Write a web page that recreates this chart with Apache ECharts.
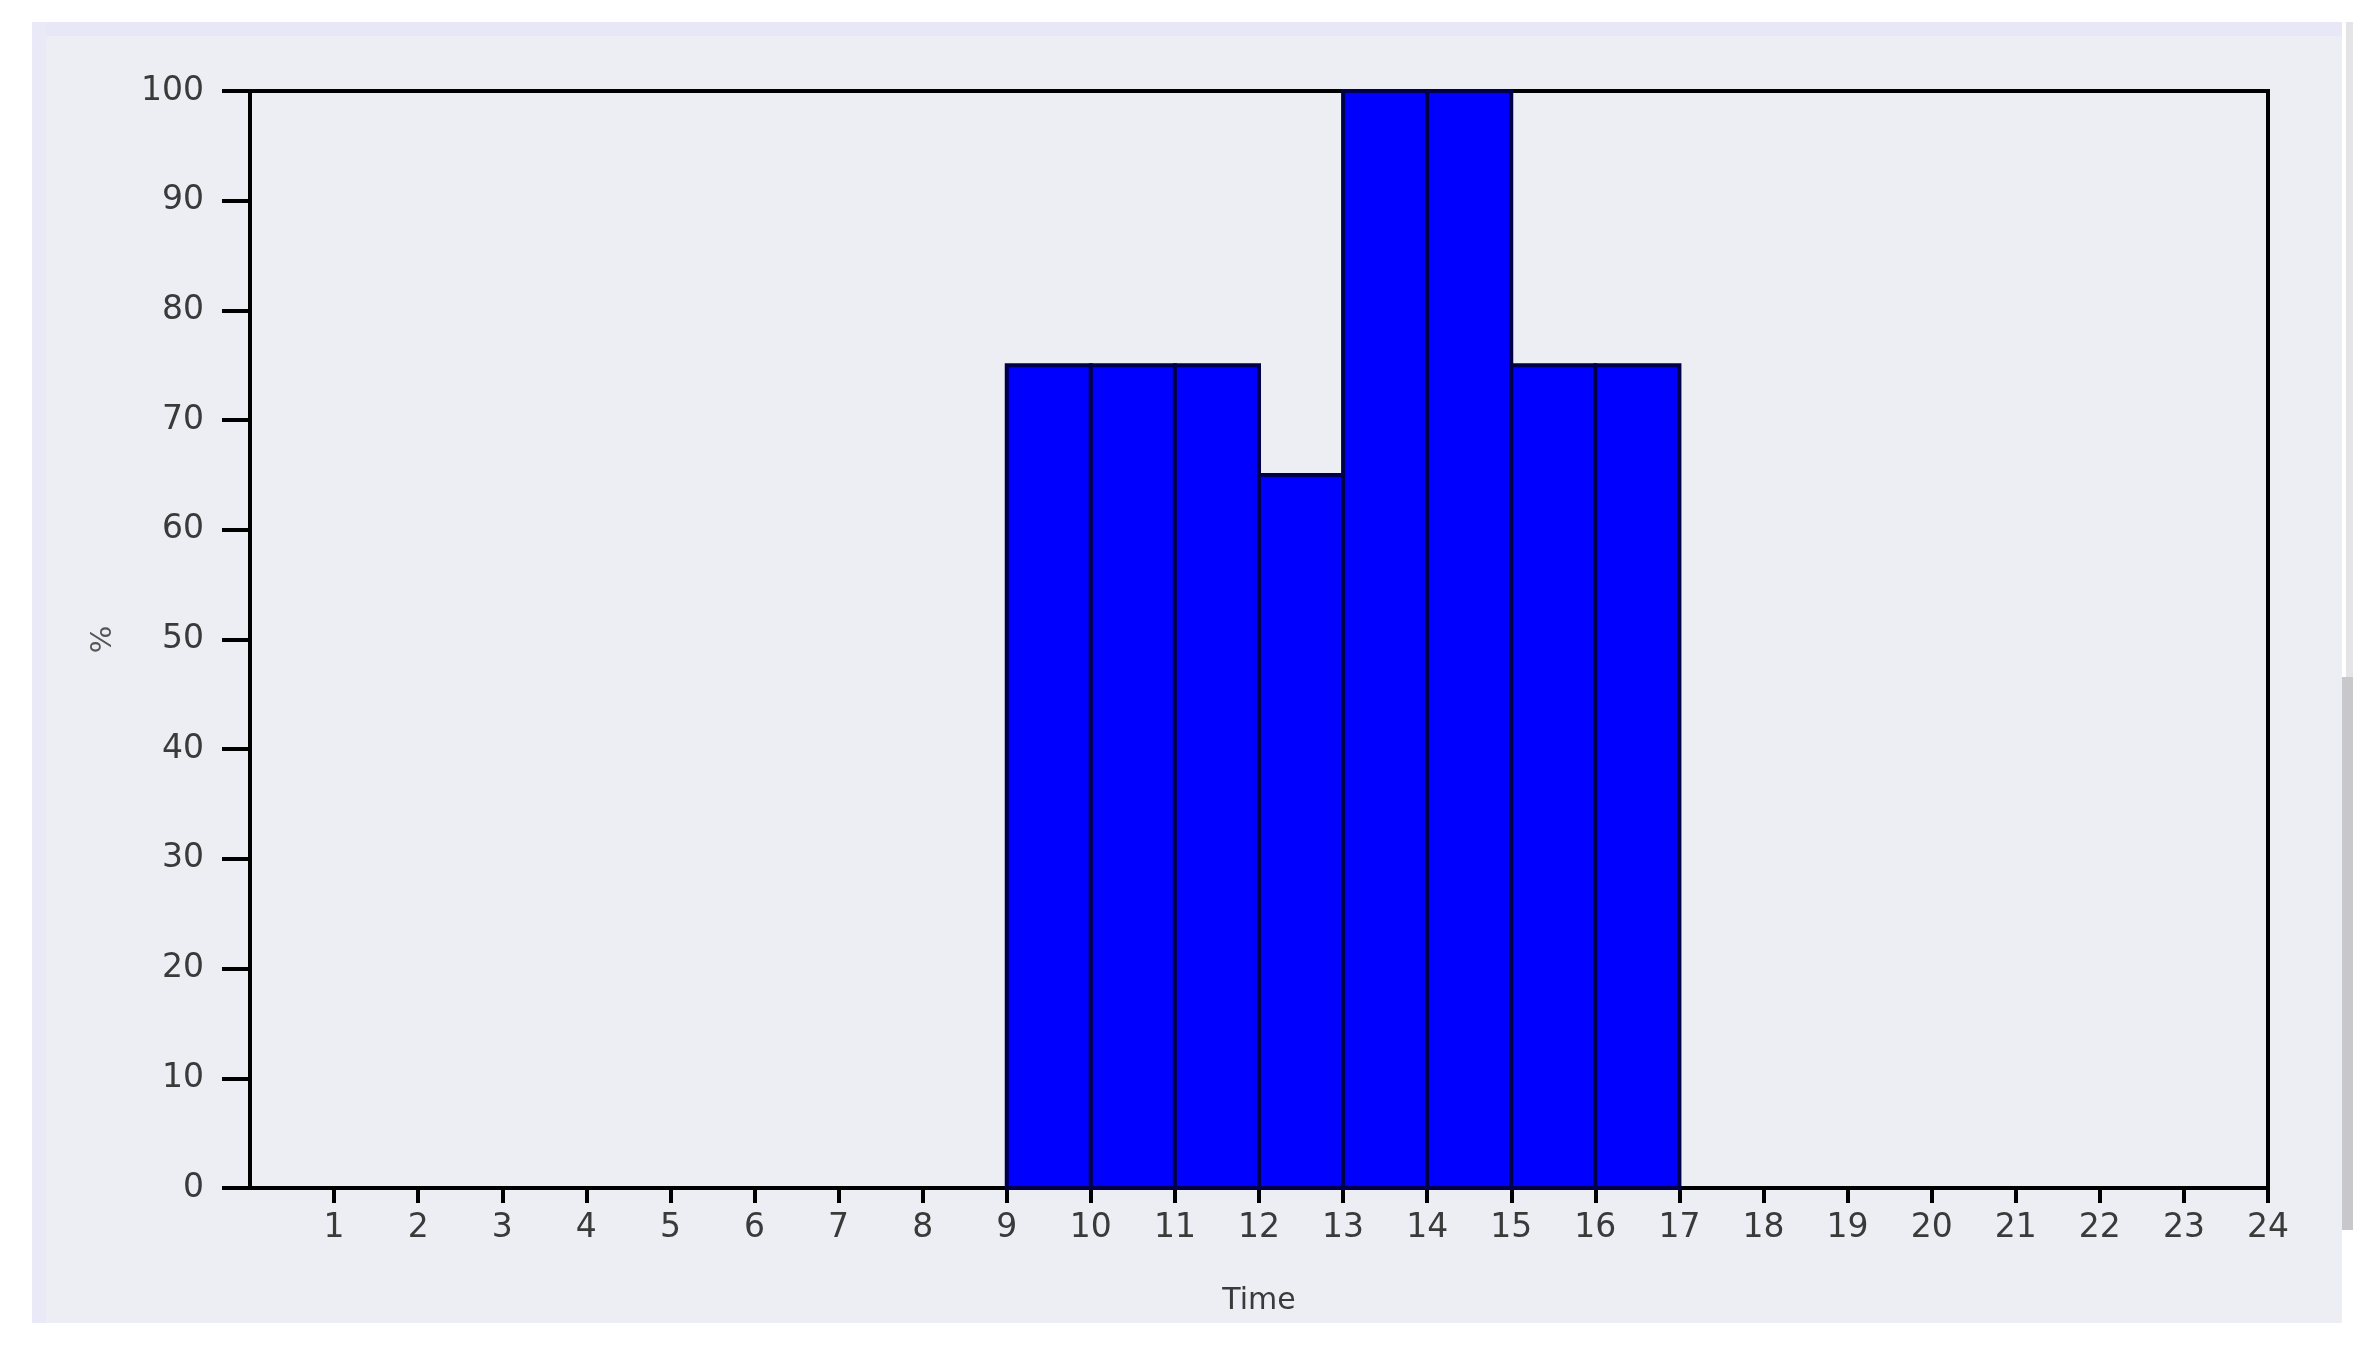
<!DOCTYPE html>
<html>
<head>
<meta charset="utf-8">
<script src="https://cdn.jsdelivr.net/npm/echarts@6/dist/echarts.min.js"></script>
<style>
  html, body { margin: 0; padding: 0; background: #fff; }
  #chart { width: 2376px; height: 1355px; }
</style>
</head>
<body>
<div id="chart"></div>
<script>
// hour slots: slot i spans from tick i to tick i+1
const slotStart = [0, 1, 2, 3, 4, 5, 6, 7, 8, 9, 10, 11, 12, 13, 14, 15, 16, 17, 18, 19, 20, 21, 22, 23]
const slotValues = [0, 0, 0, 0, 0, 0, 0, 0, 0, 75, 75, 75, 65, 100, 100, 75, 75, 0, 0, 0, 0, 0, 0, 0]
const xTicks = [1, 2, 3, 4, 5, 6, 7, 8, 9, 10, 11, 12, 13, 14, 15, 16, 17, 18, 19, 20, 21, 22, 23, 24]
const yTicks = [0, 10, 20, 30, 40, 50, 60, 70, 80, 90, 100]

const chart = echarts.init(document.getElementById('chart'))

const bars = []
for (let i = 0; i < slotStart.length; i++) {
  if (slotValues[i] > 0) {
    bars.push([slotStart[i], slotStart[i] + 1, slotValues[i]])
  }
}

const labelFont = {
  fontFamily: 'DejaVu Sans',
  fontSize: 33,
  color: '#3a3a3a'
}

chart.setOption({
  animation: false,
  backgroundColor: '#ffffff',
  graphic: [
    // outer panel
    { type: 'rect', z: -10, shape: { x: 32, y: 22, width: 2310, height: 1301 }, style: { fill: '#eceef3' } },
    { type: 'rect', z: -9, shape: { x: 32, y: 22, width: 2310, height: 14 }, style: { fill: '#e8e7f8' } },
    { type: 'rect', z: -9, shape: { x: 32, y: 22, width: 14, height: 1301 }, style: { fill: '#eae9f8' } },
    // scrollbar strip on the right
    { type: 'rect', z: -9, shape: { x: 2346, y: 22, width: 7, height: 655 }, style: { fill: '#e4e4e7' } },
    { type: 'rect', z: -9, shape: { x: 2342, y: 677, width: 11, height: 553 }, style: { fill: '#c8c7cc' } }
  ],
  grid: {
    left: 250,
    right: 108,
    top: 91,
    bottom: 167,
    show: true,
    backgroundColor: '#eceef3',
    borderColor: '#000',
    borderWidth: 4
  },
  xAxis: {
    type: 'value',
    min: 0,
    max: 24,
    interval: 1,
    name: 'Time',
    nameLocation: 'middle',
    nameGap: 98,
    nameTextStyle: { fontFamily: 'DejaVu Sans', fontSize: 30, color: '#3a3a3a', verticalAlign: 'top' },
    splitLine: { show: false },
    axisLine: { show: true, lineStyle: { color: '#000', width: 4 } },
    axisTick: { show: true, length: 15, lineStyle: { color: '#000', width: 4 }, customValues: xTicks },
    axisLabel: { margin: 24, customValues: xTicks, ...labelFont }
  },
  yAxis: {
    type: 'value',
    min: 0,
    max: 100,
    interval: 10,
    name: '%',
    nameLocation: 'middle',
    nameGap: 132,
    nameTextStyle: { fontFamily: 'DejaVu Sans', fontSize: 29, color: '#555' },
    splitLine: { show: false },
    axisLine: { show: true, lineStyle: { color: '#000', width: 4 } },
    axisTick: { show: true, length: 28, lineStyle: { color: '#000', width: 4 }, customValues: yTicks },
    axisLabel: { margin: 46, customValues: yTicks, ...labelFont }
  },
  series: [{
    type: 'custom',
    data: bars,
    encode: { x: [0, 1], y: 2 },
    renderItem(params, api) {
      const p0 = api.coord([api.value(0), api.value(2)])
      const p1 = api.coord([api.value(1), 0])
      return {
        type: 'rect',
        shape: { x: p0[0], y: p0[1], width: p1[0] - p0[0], height: p1[1] - p0[1] },
        style: { fill: '#0000ff', stroke: '#000048', lineWidth: 4 }
      }
    }
  }]
})
</script>
</body>
</html>
